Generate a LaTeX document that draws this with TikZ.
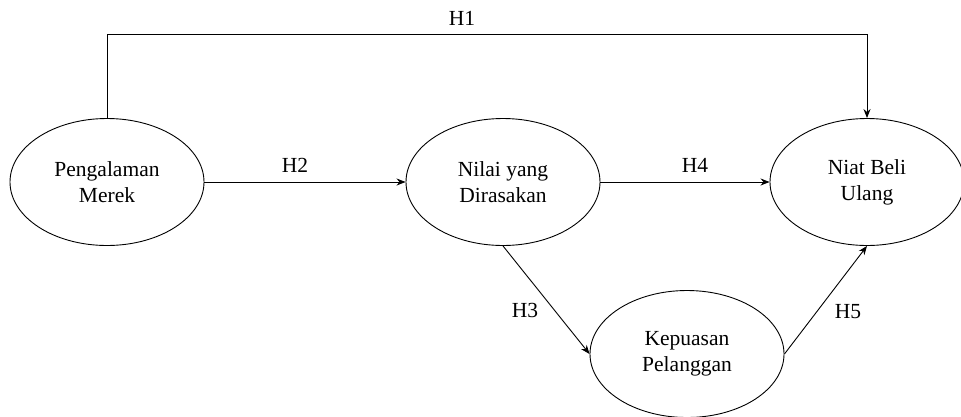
\documentclass[tikz,border=0pt]{standalone}
\usepackage{fontspec}
\setmainfont{Liberation Serif}
\usetikzlibrary{shapes.geometric,arrows.meta}
\begin{document}
\begin{tikzpicture}
            [x=1pt, y=-1pt,
            var/.style={ellipse, draw, line width=0.9pt, minimum width=194pt, minimum height=127pt, inner sep=0pt, align=center, font=\fontsize{21.5}{26}\selectfont},
            hyp/.style={font=\fontsize{21.5}{26}\selectfont},
            arr/.style={line width=0.9pt, -{Stealth[length=9pt, width=7pt]}}]

            \useasboundingbox (0,0) rectangle (961,416);

            \node[var] (pm) at (107,182) {Pengalaman\\Merek};
            \node[var] (nyd) at (503,182) {Nilai yang\\Dirasakan};
            \node[var] (nbu) at (867,182) {Niat Beli\\Ulang};
            \node[var] (kp) at (687,354) {Kepuasan\\Pelanggan};

            % Labels for the paths
            \node[hyp] (h1) at (462,18) {H1};
            \node[hyp] (h2) at (295,165) {H2};
            \node[hyp] (h3) at (525,310) {H3};
            \node[hyp] (h4) at (695,165) {H4};
            \node[hyp] (h5) at (848,312) {H5};

            \draw[arr] (pm.north) -- ++(0,-84) -| (nbu.north);
            \draw[arr] (pm) -- (nyd);
            \draw[arr] (nyd) -- (nbu);
            \draw[arr] (nyd.south) -- (kp.west);
            \draw[arr] (kp.east) -- (nbu.south);

        \end{tikzpicture}
\end{document}
